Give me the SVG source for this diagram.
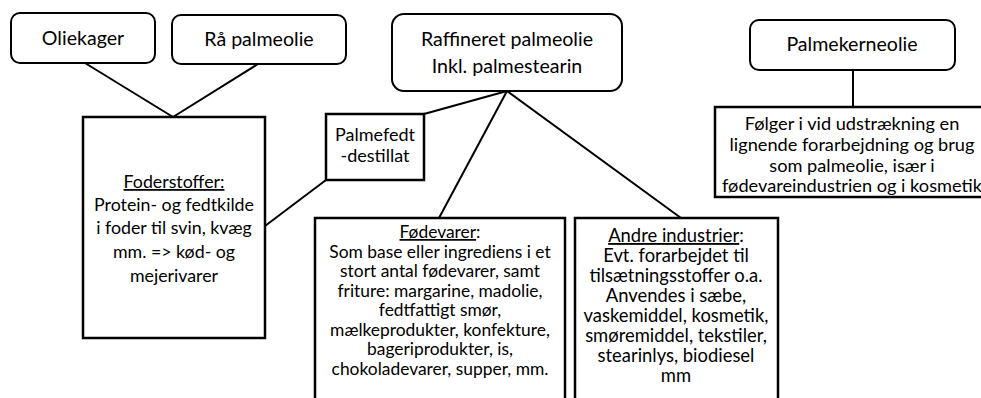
<svg xmlns="http://www.w3.org/2000/svg" width="981" height="398" viewBox="0 0 981 398">
<style>
.rb{fill:#fff;stroke:#000;stroke-width:2}
.bx{fill:#fff;stroke:#000;stroke-width:2.5}
.c{stroke:#000;stroke-width:2;fill:none}
text{font-family:Lato,"Liberation Sans",Arial,sans-serif;fill:#000;text-anchor:middle}
.t1{font-size:19.6px}
.tk{font-size:18.2px}
.tf{font-size:17.8px}
.tp{font-size:18px}
.t3{font-size:17.4px}
.ta{font-size:18.4px}
.u{text-decoration:underline}
</style>
<rect width="981" height="398" fill="#fff"/>
<g id="connectors">
<line class="c" x1="85" y1="63" x2="173" y2="117"/>
<line class="c" x1="258" y1="64" x2="173" y2="117"/>
<line class="c" x1="507" y1="91" x2="424" y2="114"/>
<line class="c" x1="507" y1="91" x2="439" y2="218"/>
<line class="c" x1="507" y1="91" x2="681" y2="218"/>
<line class="c" x1="326" y1="180" x2="265" y2="226"/>
<line class="c" x1="853" y1="70" x2="853" y2="107"/>
</g>
<g id="oliekager">
<rect class="rb" x="11" y="13" width="144" height="50" rx="9"/>
<text class="t1" x="83" y="45">Oliekager</text>
</g>
<g id="raa-palmeolie">
<rect class="rb" x="172" y="15" width="174" height="49" rx="9"/>
<text class="t1" x="259" y="46">Rå palmeolie</text>
</g>
<g id="raffineret">
<rect class="rb" x="392" y="14" width="230" height="77" rx="12"/>
<text class="t1" x="507" y="46">Raffineret palmeolie</text>
<text class="t1" x="507" y="73">Inkl. palmestearin</text>
</g>
<g id="palmekerneolie">
<rect class="rb" x="750" y="20" width="205" height="50" rx="9"/>
<text class="t1" x="852" y="51">Palmekerneolie</text>
</g>
<g id="palmekerne-tekst">
<rect class="bx" x="715" y="107" width="280" height="90"/>
<text class="tk" x="852" y="130">Følger i vid udstrækning en</text>
<text class="tk" x="852" y="151">lignende forarbejdning og brug</text>
<text class="tk" x="852" y="172">som palmeolie, især i</text>
<text class="tk" x="852" y="192">fødevareindustrien og i kosmetik</text>
</g>
<g id="foderstoffer">
<rect class="bx" x="83" y="117" width="182" height="221"/>
<text class="tf" x="174" y="188"><tspan class="u">Foderstoffer:</tspan></text>
<text class="tf" x="174" y="211">Protein- og fedtkilde</text>
<text class="tf" x="174" y="234">i foder til svin, kvæg</text>
<text class="tf" x="174" y="258">mm. =&gt; kød- og</text>
<text class="tf" x="174" y="282">mejerivarer</text>
</g>
<g id="palmefedt">
<rect class="bx" x="326" y="114" width="98" height="66"/>
<text class="tp" x="375" y="141">Palmefedt</text>
<text class="tp" x="375" y="162">-destillat</text>
</g>
<g id="foedevarer">
<rect class="bx" x="315" y="218" width="250" height="185"/>
<text class="t3" x="440" y="238"><tspan class="u">Fødevarer</tspan>:</text>
<text class="t3" x="440" y="258">Som base eller ingrediens i et</text>
<text class="t3" x="440" y="277">stort antal fødevarer, samt</text>
<text class="t3" x="440" y="297">friture: margarine, madolie,</text>
<text class="t3" x="440" y="316">fedtfattigt smør,</text>
<text class="t3" x="440" y="336">mælkeprodukter, konfekture,</text>
<text class="t3" x="440" y="355">bageriprodukter, is,</text>
<text class="t3" x="440" y="375">chokoladevarer, supper, mm.</text>
</g>
<g id="andre-industrier">
<rect class="bx" x="575" y="218" width="203" height="185"/>
<text class="ta" x="676" y="242"><tspan class="u">Andre industrier</tspan>:</text>
<text class="ta" x="676" y="262">Evt. forarbejdet til</text>
<text class="ta" x="676" y="282">tilsætningsstoffer o.a.</text>
<text class="ta" x="676" y="302">Anvendes i sæbe,</text>
<text class="ta" x="676" y="322">vaskemiddel, kosmetik,</text>
<text class="ta" x="676" y="342">smøremiddel, tekstiler,</text>
<text class="ta" x="676" y="362">stearinlys, biodiesel</text>
<text class="ta" x="676" y="382">mm</text>
</g>
</svg>
